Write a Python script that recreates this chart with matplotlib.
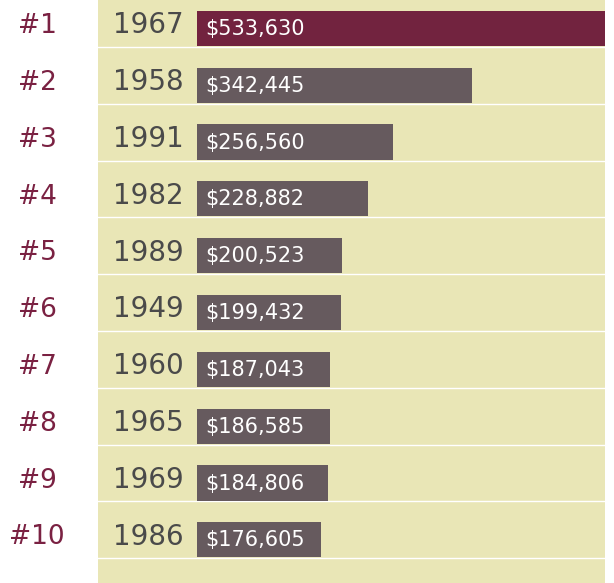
import matplotlib.pyplot as plt
import numpy as np

# data
ranks = ["#1", "#2", "#3", "#4", "#5", "#6", "#7", "#8", "#9", "#10"]
years = ["1967", "1958", "1991", "1982", "1989", "1949", "1960", "1965", "1969", "1986"]
values = [533630, 342445, 256560, 228882, 200523, 199432, 187043, 186585, 184806, 176605]

BEIGE = "#e9e6b6"
TOP = "#72233f"
GREY = "#665a5e"
RED_TXT = "#7a2142"
YEAR_TXT = "#4a4a4a"
BAR_START = 40500  # bars are drawn from here, the year labels sit left of it

plt.rcParams['font.family'] = ['DejaVu Sans']

fig = plt.figure(figsize=(6.14, 5.83), dpi=100)
W, H = 614, 583
ax = fig.add_axes([98 / W, 0, (605 - 98) / W, 1])
ax.set_facecolor(BEIGE)

y = np.arange(len(values))
colors = [TOP] + [GREY] * (len(values) - 1)
v = np.array(values)
ax.barh(y, v - BAR_START, left=BAR_START, height=0.62, color=colors, zorder=2)

ax.set_xlim(-68100, 489000)
ax.set_ylim(9.76, -0.5)

# white row separators
for i in y:
  ax.axhline(i + 0.325, color="white", lw=1.0, zorder=1)
#

for i, (yr, val) in enumerate(zip(years, values)):
  ax.text(-51500, i - 0.055, yr, ha="left", va="center", fontsize=20, color=YEAR_TXT, zorder=3)
  ax.text(BAR_START + 9500, i + 0.01, "${:,}".format(val), ha="left", va="center",
          fontsize=15, color="white", zorder=3)
#

for i, r in enumerate(ranks):
  # ranks live in the white strip left of the axes
  fig.text(37 / W, 1 - (28.5 + 56.8 * (i - 0.04)) / H, r, ha="center", va="center",
           fontsize=19, color=RED_TXT)
#

ax.set_xticks([])
ax.set_yticks([])
for s in ax.spines.values():
  s.set_visible(False)

fig.savefig("out.png", dpi=100)
